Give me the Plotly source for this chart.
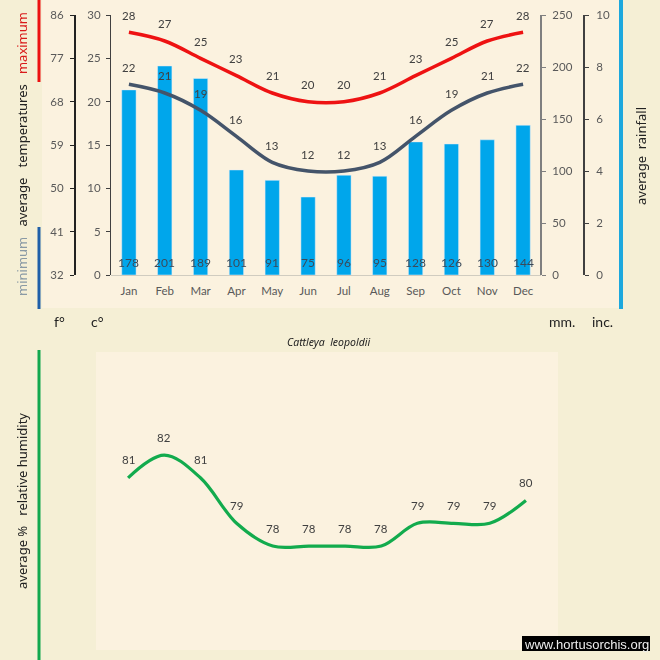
import plotly.graph_objects as go

months = ["Jan","Feb","Mar","Apr","May","Jun","Jul","Aug","Sep","Oct","Nov","Dec"]
temp_max = [28,27,25,23,21,20,20,21,23,25,27,28]
temp_min = [22,21,19,16,13,12,12,13,16,19,21,22]
rain_mm = [178,201,189,101,91,75,96,95,128,126,130,144]
humidity = [81,82,81,79,78,78,78,78,79,79,79,80]
f_ticks = [32,41,50,59,68,77,86]
c_ticks = [0,5,10,15,20,25,30]
mm_ticks = [0,50,100,150,200,250]
inc_ticks = [0,2,4,6,8,10]

W = H = 660
FONT = "Lato"
GREY = "#595959"
def px(x): return x / W
def py(y): return 1 - y / H

fig = go.Figure()
fig.add_bar(x=months, y=rain_mm, marker_color="#00A6EB", width=0.4, xaxis="x", yaxis="y", hoverinfo="skip")
fig.add_scatter(x=months, y=temp_max, mode="lines", line=dict(color="#EE1212", width=3.5, shape="spline", smoothing=1), xaxis="x", yaxis="y2")
fig.add_scatter(x=months, y=temp_min, mode="lines", line=dict(color="#44546A", width=3.5, shape="spline", smoothing=1), xaxis="x", yaxis="y2")
# transparent traces keep the extra scale axes alive
fig.add_scatter(x=months[:7], y=f_ticks, mode="markers", opacity=0, xaxis="x", yaxis="y3", hoverinfo="skip")
fig.add_scatter(x=months[:6], y=inc_ticks, mode="markers", opacity=0, xaxis="x", yaxis="y4", hoverinfo="skip")
fig.add_scatter(x=months, y=humidity, mode="lines", line=dict(color="#12AB4D", width=3.2, shape="spline", smoothing=1), xaxis="x2", yaxis="y5")

ann = []
def label(x, y, xref, yref, shift, size=11.5):
    ann.append(dict(x=x, y=y, xref=xref, yref=yref, yshift=shift, text=str(y), showarrow=False,
                    font=dict(family=FONT, size=size, color="#404040")))
for m, v in zip(months, temp_max): label(m, v, "x", "y2", 17)
for m, v in zip(months, temp_min): label(m, v, "x", "y2", 17)
for m, v in zip(months, humidity): label(m, v, "x2", "y5", 18)
for m, v in zip(months, rain_mm):
    ann.append(dict(x=m, y=0, xref="x", yref="y", yshift=13, text=str(v), showarrow=False,
                    font=dict(family=FONT, size=12, color="#3A4A5A")))

def note(x, y, text, size=13, color="#222", angle=0, family="Noto Sans", **kw):
    ann.append(dict(x=px(x), y=py(y), xref="paper", yref="paper", text=text, showarrow=False,
                    textangle=angle, font=dict(family=family, size=size, color=color),
                    xanchor="center", yanchor="middle", **kw))

gap = "&nbsp;&nbsp;&nbsp;"
note(22, 154, f'<span style="color:#8A9AA5">minimum</span>{gap}average{gap}temperatures{gap}<span style="color:#D91A1A">maximum</span>', size=13, angle=-90)
note(641, 156, "average&nbsp;&nbsp;rainfall", size=13, angle=-90)
note(22, 501, "average&nbsp;%&nbsp;&nbsp;&nbsp;relative&nbsp;humidity", size=13, angle=-90)
note(59, 321, "f°", size=14, family=FONT)
note(97, 321, "c°", size=14, family=FONT)
note(562, 321, "mm.", size=14, family=FONT)
note(602, 321, "inc.", size=14, family=FONT)
note(329, 342, "<i>Cattleya&nbsp;&nbsp;leopoldii</i>", size=10.5)
note(586, 644, "www.hortusorchis.org", size=13, color="#EDEDED", family="Liberation Sans")

def rect(x0, y0, x1, y1, color, layer="below"):
    return dict(type="rect", xref="paper", yref="paper", x0=px(x0), x1=px(x1), y0=py(y1), y1=py(y0),
                fillcolor=color, line_width=0, layer=layer)

shapes = [
    rect(42, 0, 620, 308, "#FBF2DF"),
    rect(96, 352, 558, 650, "#FBF2DF"),
    rect(37.5, 0, 40.5, 82, "#EC1111", "above"),
    rect(37.5, 227, 40.5, 309, "#1F5FA8", "above"),
    rect(37.5, 350, 40.5, 660, "#12A84E", "above"),
    rect(619, 0, 623, 309, "#1CA8DD", "above"),
    rect(522, 636, 650, 651, "#000000", "above"),
]

dom_top = [py(275), py(15)]
tickf = dict(family=FONT, size=11.5, color=GREY)

fig.update_layout(
    width=W, height=H, autosize=False, margin=dict(l=0, r=0, t=0, b=0, pad=0, autoexpand=False),
    paper_bgcolor="#F5EFD5", plot_bgcolor="rgba(0,0,0,0)", showlegend=False,
    annotations=ann, shapes=shapes, hovermode=False,
    xaxis=dict(domain=[px(111), px(541)], range=[-0.5, 11.5], type="category", categoryorder="array", categoryarray=months,
               anchor="y", showgrid=False, zeroline=False, showline=True, linecolor="#D0CCC0", linewidth=1,
               ticks="", tickfont=tickf, ticklabelstandoff=5, automargin=False),
    yaxis=dict(domain=dom_top, range=[0, 250], tickvals=mm_ticks, side="right", anchor="free", position=px(541),
               showgrid=False, zeroline=False, showline=True, linecolor="#7F7F7F", linewidth=2, automargin=False,
               ticks="outside", ticklen=4, tickcolor="#7F7F7F", tickfont=tickf, ticklabelstandoff=4),
    yaxis2=dict(domain=dom_top, range=[0, 30], tickvals=c_ticks, side="left", anchor="free", position=px(110), overlaying="y",
                showgrid=False, zeroline=False, showline=True, linecolor="#404040", linewidth=1, automargin=False,
                ticks="outside", ticklen=4, tickcolor="#404040", tickfont=tickf, ticklabelstandoff=3),
    yaxis3=dict(domain=dom_top, range=[32, 86], tickvals=f_ticks, side="left", anchor="free", position=px(75), overlaying="y",
                showgrid=False, zeroline=False, showline=True, linecolor="#222222", linewidth=2, automargin=False,
                ticks="outside", ticklen=4, tickcolor="#222222", tickfont=tickf, ticklabelstandoff=4),
    yaxis4=dict(domain=dom_top, range=[0, 10], tickvals=inc_ticks, side="right", anchor="free", position=px(584), overlaying="y",
                showgrid=False, zeroline=False, showline=True, linecolor="#404040", linewidth=2, automargin=False,
                ticks="outside", ticklen=4, tickcolor="#404040", tickfont=tickf, ticklabelstandoff=5),
    xaxis2=dict(domain=[px(110), px(544)], range=[-0.5, 11.5], type="category", categoryorder="array", categoryarray=months,
                anchor="y5", visible=False),
    yaxis5=dict(domain=[py(650), py(352)], range=[73.43, 86.53], anchor="x2", visible=False),
)

fig.write_html("out.html", config=dict(displayModeBar=False), post_script="document.body.style.margin='0';")
